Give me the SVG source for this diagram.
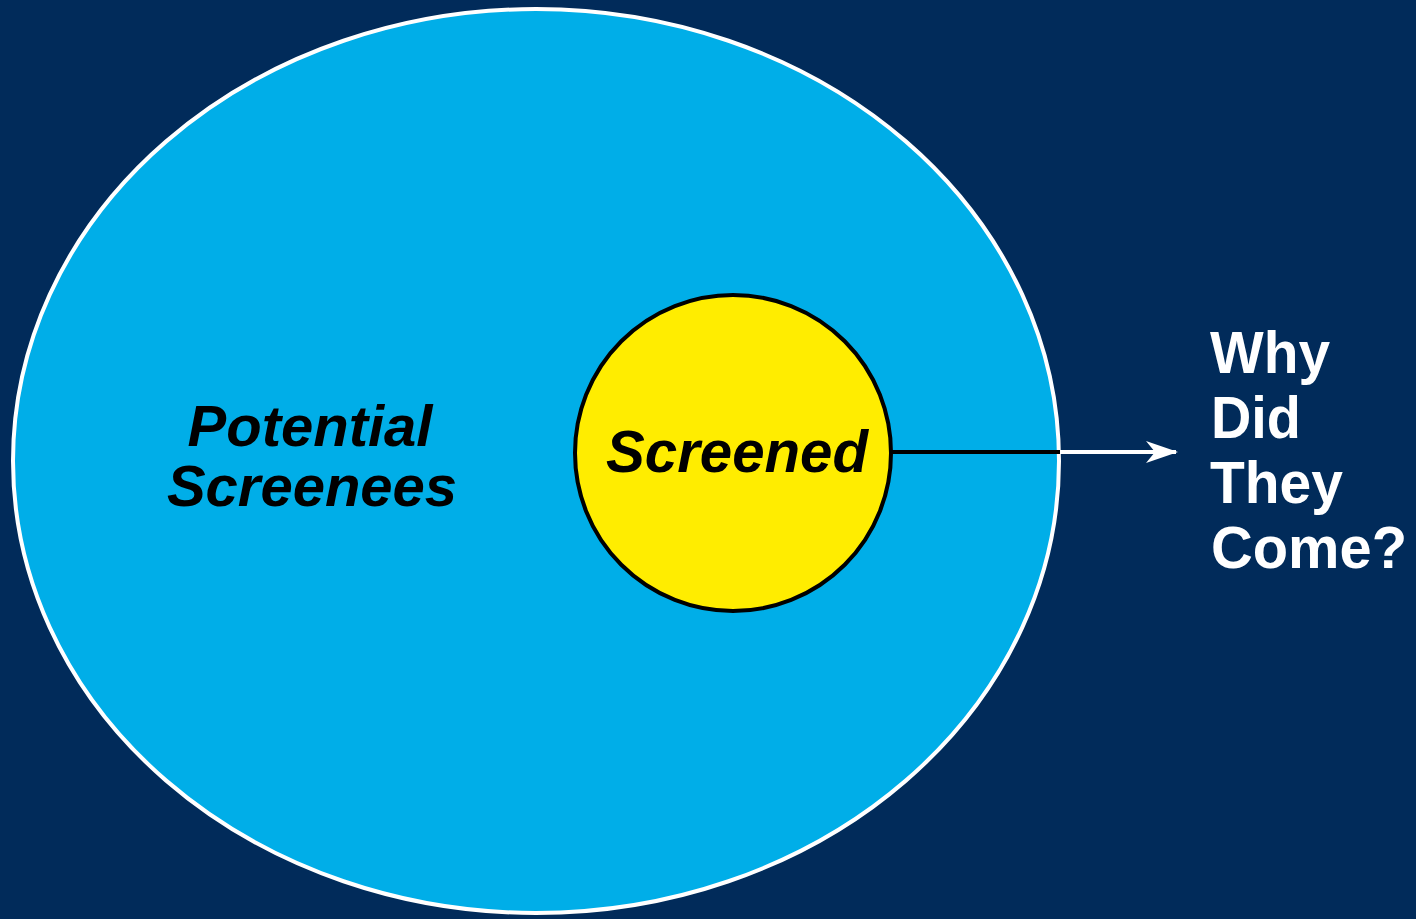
<svg xmlns="http://www.w3.org/2000/svg" width="1416" height="919" viewBox="0 0 1416 919">
<style>
.lbl{font-family:"Liberation Sans",Arial,sans-serif;font-weight:bold;font-size:60px}
.pot{font-size:58px}
.it{font-style:italic;fill:#000}
.wh{fill:#fff}
</style>
<defs>
<marker id="arr" viewBox="0 0 32 24" refX="30" refY="12" markerWidth="32" markerHeight="24" markerUnits="userSpaceOnUse" orient="auto">
<path d="M0,1 L32,12 L0,23 L9,12 Z" fill="#fff"/>
</marker>
</defs>
<rect width="1416" height="919" fill="#012b5a"/>
<g id="potential">
<ellipse cx="536" cy="461" rx="523" ry="452" fill="#00aee8" stroke="#fff" stroke-width="4"/>
<text class="lbl pot it" text-anchor="middle"><tspan x="310" y="446">Potential</tspan><tspan x="312" y="506">Screenees</tspan></text>
</g>
<g id="connectors">
<line x1="892" y1="452" x2="1060" y2="452" stroke="#000" stroke-width="4"/>
<line x1="1060" y1="452" x2="1176" y2="452" stroke="#fff" stroke-width="4" marker-end="url(#arr)"/>
</g>
<g id="screened">
<circle cx="733" cy="453" r="158" fill="#ffed00" stroke="#000" stroke-width="4"/>
<text class="lbl it" x="606" y="472" textLength="262" lengthAdjust="spacingAndGlyphs">Screened</text>
</g>
<g id="why">
<text class="lbl wh"><tspan x="1210" y="373" textLength="120" lengthAdjust="spacingAndGlyphs">Why</tspan><tspan x="1211" y="438" textLength="90" lengthAdjust="spacingAndGlyphs">Did</tspan><tspan x="1210" y="503" textLength="133" lengthAdjust="spacingAndGlyphs">They</tspan><tspan x="1211" y="568" textLength="196" lengthAdjust="spacingAndGlyphs">Come?</tspan></text>
</g>
</svg>
